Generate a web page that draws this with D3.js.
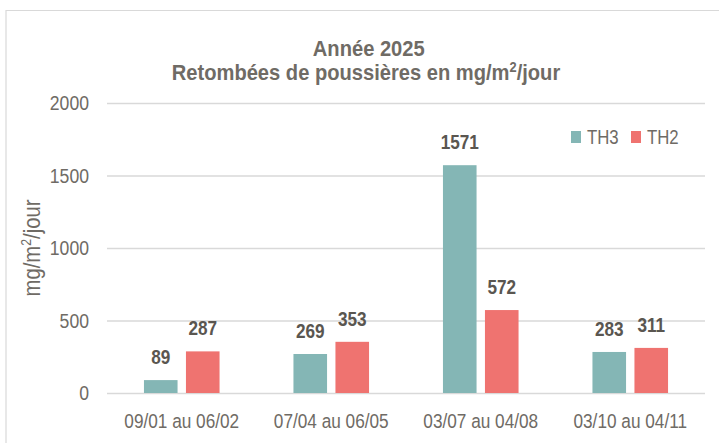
<!DOCTYPE html>
<html>
<head>
<meta charset="utf-8">
<script src="https://cdn.jsdelivr.net/npm/d3@7"></script>
<style>
  body { margin: 0; background: #fff; }
  svg { display: block; }
  text { font-family: "Liberation Sans", Arial, sans-serif; }
</style>
</head>
<body>
<svg id="chart" width="719" height="443"></svg>
<script>
const periods = ["09/01 au 06/02", "07/04 au 06/05", "03/07 au 04/08", "03/10 au 04/11"];
const th3 = [89, 269, 1571, 283];
const th2 = [287, 353, 572, 311];
const seriesNames = ["TH3", "TH2"];
const yTicks = [0, 500, 1000, 1500, 2000];

const colors = { TH3: "#84b6b5", TH2: "#ef7370" };
const textColor = "#6f6b65";
const sx = 0.84; // narrow font look

const svg = d3.select("#chart");
const margin = { top: 103, right: 14, bottom: 50, left: 107 };
const width = 719 - margin.left - margin.right,
  height = 443 - margin.top - margin.bottom;

// outer frame, only top and left edges show
svg.append("path")
  .attr("d", "M6,443 V10.5 H719")
  .attr("fill", "none")
  .attr("stroke", "#d9d9d9")
  .attr("stroke-width", 1.2);

const x0 = d3.scaleBand().domain(periods).range([0, width]);
const x1 = d3.scaleBand().domain(seriesNames).range([0, x0.bandwidth()]).paddingInner(0.2).paddingOuter(0.88);
const y = d3.scaleLinear().domain([0, 2000]).range([height, 0]);

const g = svg.append("g").attr("transform", `translate(${margin.left},${margin.top})`);

// grid
g.append("g")
  .call(d3.axisLeft(y).tickValues(yTicks).tickSize(-width).tickFormat(""))
  .call((s) => s.select(".domain").remove())
  .selectAll("line")
  .attr("stroke", "#d9d9d9")
  .attr("stroke-width", 1.3);

// y tick labels
const yAxis = g.append("g")
  .call(d3.axisLeft(y).tickValues(yTicks).tickSize(0).tickFormat(d3.format("d")));
yAxis.select(".domain").remove();
yAxis.selectAll("text")
  .attr("x", -18 / sx)
  .attr("transform", `scale(${sx},1)`)
  .attr("fill", textColor)
  .style("font-size", "21px");

// x labels
const xAxis = g.append("g")
  .attr("transform", `translate(0,${height})`)
  .call(d3.axisBottom(x0).tickSize(0).tickPadding(20));
xAxis.select(".domain").remove();
xAxis.selectAll("text")
  .attr("transform", `scale(${sx},1)`)
  .attr("fill", textColor)
  .style("font-size", "20.5px");

const data = periods.map((p, i) => ({ period: p, values: [
  { key: "TH3", value: th3[i] },
  { key: "TH2", value: th2[i] },
] }));

const groups = g.selectAll(".grp")
  .data(data)
  .join("g")
  .attr("class", "grp")
  .attr("transform", (d) => `translate(${x0(d.period)},0)`);

groups.selectAll("rect")
  .data((d) => d.values)
  .join("rect")
  .attr("x", (d) => x1(d.key))
  .attr("y", (d) => y(d.value))
  .attr("width", x1.bandwidth())
  .attr("height", (d) => height - y(d.value))
  .attr("fill", (d) => colors[d.key]);

groups.selectAll(".lbl")
  .data((d) => d.values)
  .join("text")
  .attr("class", "lbl")
  .attr("transform", (d) => `translate(${x1(d.key) + x1.bandwidth() / 2},${y(d.value) - 16}) scale(0.86,1)`)
  .attr("text-anchor", "middle")
  .attr("fill", "#5a5650")
  .style("font-size", "20px")
  .style("font-weight", "bold")
  .text((d) => d.value);

// title
const title = svg.append("text")
  .attr("transform", "translate(366,0) scale(0.915,1)")
  .attr("text-anchor", "middle")
  .attr("fill", textColor)
  .style("font-size", "22px")
  .style("font-weight", "bold");
title.append("tspan").attr("x", 3).attr("y", 56).text("Année 2025");
const t2 = title.append("tspan").attr("x", 0).attr("y", 80);
t2.append("tspan").text("Retombées de poussières en mg/m");
t2.append("tspan").attr("dy", -8).style("font-size", "14px").text("2");
t2.append("tspan").attr("dy", 8).text("/jour");

// y axis title
const yt = svg.append("text")
  .attr("transform", "translate(40,248) rotate(-90) scale(0.88,1)")
  .attr("text-anchor", "middle")
  .attr("fill", textColor)
  .style("font-size", "23px");
yt.append("tspan").text("mg/m");
yt.append("tspan").attr("dy", -9).style("font-size", "14px").text("2");
yt.append("tspan").attr("dy", 9).text("/jour");

// legend
const legend = svg.append("g").attr("transform", "translate(571,131)");
const li = legend.selectAll("g")
  .data(seriesNames)
  .join("g")
  .attr("transform", (d, i) => `translate(${i * 60},0)`);
li.append("rect")
  .attr("width", 10)
  .attr("height", 12)
  .attr("fill", (d) => colors[d]);
li.append("text")
  .attr("transform", `translate(16,12.5) scale(${sx},1)`)
  .attr("fill", textColor)
  .style("font-size", "20px")
  .text((d) => d);
</script>
</body>
</html>
